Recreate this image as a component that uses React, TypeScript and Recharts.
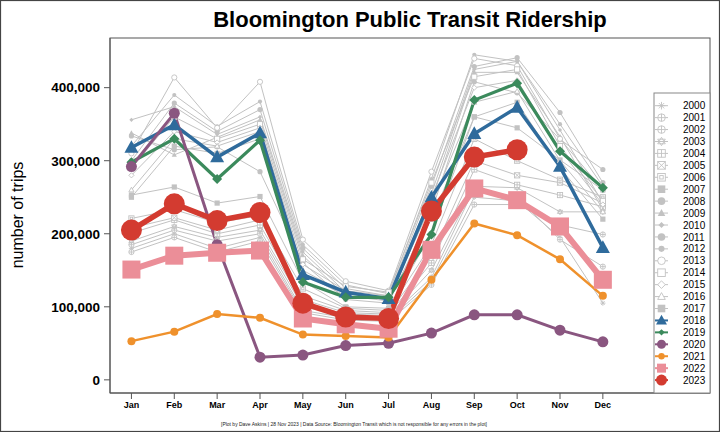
import React from 'react';
import { LineChart, Line, XAxis, YAxis } from 'recharts';

const MONTHS = ['Jan', 'Feb', 'Mar', 'Apr', 'May', 'Jun', 'Jul', 'Aug', 'Sep', 'Oct', 'Nov', 'Dec'];
const MONTH_NUM = [1, 2, 3, 4, 5, 6, 7, 8, 9, 10, 11, 12];
const Y_TICKS = [0, 100000, 200000, 300000, 400000];
const YEARS = [2000, 2001, 2002, 2003, 2004, 2005, 2006, 2007, 2008, 2009, 2010, 2011, 2012, 2013, 2014, 2015, 2016, 2017, 2018, 2019, 2020, 2021, 2022, 2023];

const R2000 = [180000, 200000, 180000, 195000, 95000, 85000, 82000, 135000, 250000, 245000, 195000, 105000];
const R2001 = [185000, 205000, 190000, 200000, 100000, 88000, 85000, 140000, 262000, 250000, 192000, 155000];
const R2002 = [175000, 195000, 175000, 190000, 92000, 82000, 80000, 130000, 240000, 240000, 212000, 199000];
const R2003 = [190000, 210000, 195000, 205000, 105000, 90000, 88000, 150000, 265000, 263000, 230000, 230000];
const R2004 = [201000, 219000, 200000, 212000, 110000, 92000, 90000, 160000, 288000, 267000, 253000, 237000];
const R2005 = [208000, 222000, 205000, 219000, 115000, 95000, 92000, 170000, 300000, 280000, 270000, 242000];
const R2006 = [221000, 233000, 215000, 225000, 125000, 98000, 95000, 185000, 330000, 300000, 274000, 250000];
const R2007 = [253000, 264000, 242000, 251000, 135000, 100000, 98000, 200000, 360000, 345000, 301000, 260000];
const R2008 = [334000, 315000, 319000, 285000, 160000, 110000, 105000, 230000, 408000, 393000, 329000, 288000];
const R2009 = [338000, 308000, 332000, 356000, 170000, 115000, 108000, 245000, 421000, 421000, 333000, 233000];
const R2010 = [356000, 374000, 336000, 360000, 175000, 120000, 112000, 255000, 425000, 436000, 342000, 242000];
const R2011 = [300000, 379000, 340000, 370000, 180000, 125000, 115000, 265000, 429000, 441000, 366000, 270000];
const R2012 = [320000, 390000, 347000, 381000, 185000, 130000, 118000, 275000, 445000, 436000, 350000, 265000];
const R2013 = [310000, 414000, 345000, 408000, 192000, 135000, 122000, 285000, 440000, 430000, 330000, 260000];
const R2014 = [290000, 360000, 330000, 350000, 165000, 128000, 120000, 270000, 415000, 425000, 320000, 245000];
const R2015 = [280000, 340000, 325000, 345000, 158000, 122000, 115000, 250000, 400000, 410000, 315000, 240000];
const R2016 = [260000, 330000, 320000, 340000, 150000, 118000, 112000, 240000, 380000, 395000, 300000, 230000];
const R2017 = [250000, 320000, 310000, 330000, 145000, 115000, 110000, 220000, 360000, 380000, 290000, 220000];
const R2018 = [318000, 349000, 305000, 338000, 144000, 120000, 111000, 250000, 337000, 373000, 292000, 181000];
const R2019 = [298000, 330000, 275000, 328000, 134000, 113000, 113000, 199000, 383000, 406000, 313000, 263000];
const R2020 = [292000, 365000, 185000, 31000, 34000, 47000, 50000, 64000, 89000, 89000, 68000, 52000];
const R2021 = [53000, 66000, 90000, 85000, 62000, 60000, 58000, 137000, 214000, 198000, 165000, 115000];
const R2022 = [151000, 170000, 174000, 177000, 84000, 76000, 70000, 178000, 262000, 246000, 210000, 137000];
const R2023 = [205000, 241000, 218000, 229000, 105000, 86000, 84000, 231000, 305000, 315000, null, null];

const VALUES: Record<number, (number | null)[]> = {
  2000: R2000, 2001: R2001, 2002: R2002, 2003: R2003, 2004: R2004, 2005: R2005,
  2006: R2006, 2007: R2007, 2008: R2008, 2009: R2009, 2010: R2010, 2011: R2011,
  2012: R2012, 2013: R2013, 2014: R2014, 2015: R2015, 2016: R2016, 2017: R2017,
  2018: R2018, 2019: R2019, 2020: R2020, 2021: R2021, 2022: R2022, 2023: R2023,
};

const GRAY = '#c2c2c2';
type Style = { color: string; width: number; shape: string; size: number; legendSize: number };
const GRAY_SHAPES = ['asterisk', 'circlePlus', 'circlePlus', 'star6', 'squarePlus', 'squareX', 'squareIn', 'square', 'circle', 'triangle', 'diamondSmall', 'circle', 'circleSmall', 'openCircle', 'openSquare', 'openDiamond', 'openTriangle', 'square'];
const STYLES: Record<number, Style> = {};
YEARS.forEach((y, i) => {
  if (i < 18) STYLES[y] = { color: GRAY, width: 1, shape: GRAY_SHAPES[i], size: 2.6, legendSize: 3.8 };
});
STYLES[2018] = { color: '#2f6b9c', width: 3.5, shape: 'triangle', size: 7, legendSize: 5.5 };
STYLES[2019] = { color: '#3b8a5c', width: 3.2, shape: 'diamond', size: 5, legendSize: 3.2 };
STYLES[2020] = { color: '#8a5680', width: 3, shape: 'circle', size: 5.5, legendSize: 4.5 };
STYLES[2021] = { color: '#ef912c', width: 2.5, shape: 'circle', size: 4, legendSize: 3.2 };
STYLES[2022] = { color: '#eb8e98', width: 6, shape: 'square', size: 9, legendSize: 4.5 };
STYLES[2023] = { color: '#d33b30', width: 5.5, shape: 'circle', size: 10.5, legendSize: 5.5 };

const DATA = MONTH_NUM.map((m, i) => {
  const row: Record<string, number | null> = { m };
  YEARS.forEach((y) => {
    const v = VALUES[y][i];
    row['y' + y] = v === undefined ? null : v;
  });
  return row;
});

const FONT = '"Liberation Sans", Arial, Helvetica, sans-serif';

function Marker({ shape, x, y, s, color }: { shape: string; x: number; y: number; s: number; color: string }) {
  const sw = 0.9;
  switch (shape) {
    case 'circle':
      return <circle cx={x} cy={y} r={s} fill={color} />;
    case 'circleSmall':
      return <circle cx={x} cy={y} r={s * 0.8} fill={color} />;
    case 'openCircle':
      return <circle cx={x} cy={y} r={s} fill="#fff" stroke={color} strokeWidth={sw} />;
    case 'square':
      return <rect x={x - s} y={y - s} width={2 * s} height={2 * s} fill={color} />;
    case 'openSquare':
      return <rect x={x - s} y={y - s} width={2 * s} height={2 * s} fill="#fff" stroke={color} strokeWidth={sw} />;
    case 'triangle':
      return <polygon points={`${x},${y - s * 1.05} ${x - s},${y + s * 0.75} ${x + s},${y + s * 0.75}`} fill={color} />;
    case 'openTriangle':
      return <polygon points={`${x},${y - s * 1.05} ${x - s},${y + s * 0.75} ${x + s},${y + s * 0.75}`} fill="#fff" stroke={color} strokeWidth={sw} />;
    case 'diamond':
      return <polygon points={`${x},${y - s} ${x + s},${y} ${x},${y + s} ${x - s},${y}`} fill={color} />;
    case 'diamondSmall':
      return <polygon points={`${x},${y - s * 0.8} ${x + s * 0.8},${y} ${x},${y + s * 0.8} ${x - s * 0.8},${y}`} fill={color} />;
    case 'openDiamond':
      return <polygon points={`${x},${y - s} ${x + s},${y} ${x},${y + s} ${x - s},${y}`} fill="#fff" stroke={color} strokeWidth={sw} />;
    case 'asterisk':
      return (
        <g stroke={color} strokeWidth={sw}>
          <line x1={x - s} y1={y} x2={x + s} y2={y} />
          <line x1={x} y1={y - s} x2={x} y2={y + s} />
          <line x1={x - s * 0.7} y1={y - s * 0.7} x2={x + s * 0.7} y2={y + s * 0.7} />
          <line x1={x - s * 0.7} y1={y + s * 0.7} x2={x + s * 0.7} y2={y - s * 0.7} />
        </g>
      );
    case 'circlePlus':
      return (
        <g stroke={color} strokeWidth={sw} fill="#fff">
          <circle cx={x} cy={y} r={s} />
          <line x1={x - s} y1={y} x2={x + s} y2={y} />
          <line x1={x} y1={y - s} x2={x} y2={y + s} />
        </g>
      );
    case 'star6':
      return (
        <g stroke={color} strokeWidth={sw} fill="none">
          <polygon points={`${x},${y - s * 1.1} ${x - s},${y + s * 0.6} ${x + s},${y + s * 0.6}`} />
          <polygon points={`${x},${y + s * 1.1} ${x - s},${y - s * 0.6} ${x + s},${y - s * 0.6}`} />
        </g>
      );
    case 'squarePlus':
      return (
        <g stroke={color} strokeWidth={sw} fill="#fff">
          <rect x={x - s} y={y - s} width={2 * s} height={2 * s} />
          <line x1={x - s} y1={y} x2={x + s} y2={y} />
          <line x1={x} y1={y - s} x2={x} y2={y + s} />
        </g>
      );
    case 'squareX':
      return (
        <g stroke={color} strokeWidth={sw} fill="#fff">
          <rect x={x - s} y={y - s} width={2 * s} height={2 * s} />
          <line x1={x - s} y1={y - s} x2={x + s} y2={y + s} />
          <line x1={x - s} y1={y + s} x2={x + s} y2={y - s} />
        </g>
      );
    case 'squareIn':
      return (
        <g stroke={color} strokeWidth={sw} fill="#fff">
          <rect x={x - s} y={y - s} width={2 * s} height={2 * s} />
          <rect x={x - s * 0.45} y={y - s * 0.45} width={s * 0.9} height={s * 0.9} />
        </g>
      );
    default:
      return <circle cx={x} cy={y} r={s} fill={color} />;
  }
}

function makeDot(st: Style, year: number) {
  return (props: any) => {
    const { cx, cy, index, value } = props;
    if (cx == null || cy == null || value == null || Number.isNaN(cy)) return <g key={`d${year}-${index}`} />;
    return (
      <g key={`d${year}-${index}`}>
        <Marker shape={st.shape} x={cx} y={cy} s={st.size} color={st.color} />
      </g>
    );
  };
}

const fmt = (v: number) => v.toLocaleString('en-US');

export default function App() {
  const legendTop = 105.7;
  const legendStep = 11.93;
  return (
    <div style={{ position: 'absolute', left: 0, top: 0, width: 720, height: 432, background: '#fff', fontFamily: FONT }}>
      <LineChart width={720} height={432} data={DATA} margin={{ top: 38, right: 10, bottom: 0, left: 0 }}>
        <XAxis
          type="number"
          dataKey="m"
          domain={[0.5, 14.5]}
          ticks={MONTH_NUM}
          interval={0}
          tickFormatter={(v: number) => MONTHS[v - 1]}
          height={39}
          tickSize={6}
          tickMargin={3}
          axisLine={{ stroke: '#555' }}
          tickLine={{ stroke: '#555' }}
          tick={{ fill: '#000', fontSize: 9, fontWeight: 'bold', fontFamily: FONT }}
          allowDataOverflow
        />
        <YAxis
          type="number"
          domain={[-18000, 468000]}
          ticks={Y_TICKS}
          interval={0}
          width={110}
          tickFormatter={fmt}
          tickSize={6}
          tickMargin={4}
          axisLine={{ stroke: '#555' }}
          tickLine={{ stroke: '#555' }}
          tick={{ fill: '#000', fontSize: 13.5, fontWeight: 'bold', fontFamily: FONT }}
          allowDataOverflow
        />
        {YEARS.map((y) => {
          const st = STYLES[y];
          return (
            <Line
              key={y}
              type="linear"
              dataKey={'y' + y}
              name={String(y)}
              stroke={st.color}
              strokeWidth={st.width}
              dot={makeDot(st, y)}
              activeDot={false}
              connectNulls={false}
              isAnimationActive={false}
            />
          );
        })}
      </LineChart>
      <svg width={720} height={432} style={{ position: 'absolute', left: 0, top: 0, pointerEvents: 'none' }}>
        <rect x={0.5} y={0.5} width={719} height={431} fill="none" stroke="#444" strokeWidth={1.2} />
        <rect x={110} y={38} width={600} height={355} fill="none" stroke="#555" strokeWidth={1} />
        <text x={410} y={27} textAnchor="middle" fontSize={22} fontWeight="bold" fontFamily={FONT} fill="#000">
          Bloomington Public Transit Ridership
        </text>
        <text transform="translate(23,215) rotate(-90)" textAnchor="middle" fontSize={16} fontFamily={FONT} fill="#000">
          number of trips
        </text>
        <text x={354} y={426} textAnchor="middle" fontSize={5.5} fontFamily={FONT} fill="#222" textLength={266} lengthAdjust="spacingAndGlyphs">
          [Plot by Dave Askins | 28 Nov 2023 | Data Source: Bloomington Transit which is not responsible for any errors in the plot]
        </text>
        <rect x={654} y={93} width={56} height={300} fill="#fff" stroke="#888" strokeWidth={1} />
        {YEARS.map((y, i) => {
          const st = STYLES[y];
          const cy = legendTop + i * legendStep;
          return (
            <g key={'lg' + y}>
              <line x1={655} y1={cy} x2={668} y2={cy} stroke={st.color} strokeWidth={i < 18 ? 1 : 2} />
              <Marker shape={st.shape} x={661.5} y={cy} s={st.legendSize} color={st.color} />
              <text x={683} y={cy + 3.6} fontSize={10} fontFamily={FONT} fill="#000">
                {y}
              </text>
            </g>
          );
        })}
      </svg>
    </div>
  );
}
